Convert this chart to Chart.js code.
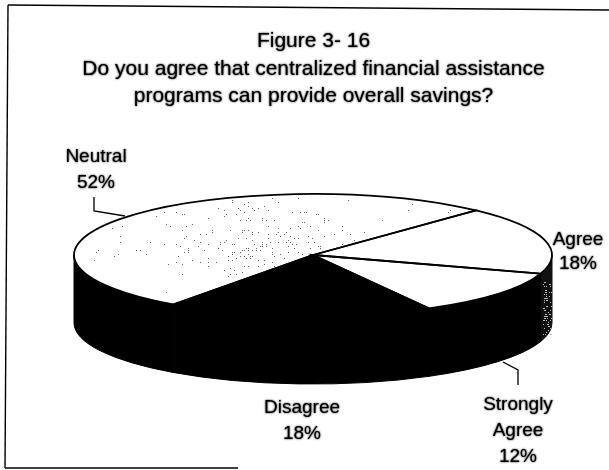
<!DOCTYPE html>
<html>
<head>
<meta charset="utf-8">
<script src="https://cdn.jsdelivr.net/npm/chart.js@4/dist/chart.umd.js"></script>
<style>
  html, body { margin: 0; padding: 0; background: #fff; }
  canvas { display: block; }
</style>
</head>
<body>
<canvas id="myChart" width="609" height="470"></canvas>
<script>
const titleLines = ['Figure 3- 16', 'Do you agree that centralized financial assistance', 'programs can provide overall savings?'];
const categories = ['Agree', 'Strongly Agree', 'Disagree', 'Neutral'];
const values = [18, 12, 18, 52];
const topColors = ['#fff', '#fff', '#000', '#fff'];
const wallColors = ['#111', '#000', '#000', '#000'];

// where the flattened pie sits on the page
const pie = { x: 313, y: 255, rx: 239, ry: 61, depth: 68 };
const labelFont = '19px "Liberation Sans"';

const labelSpots = [
  { lines: ['Agree', '18%'], x: 578, y: 240, gap: 24 },
  { lines: ['Strongly', 'Agree', '12%'], x: 518, y: 405, gap: 26 },
  { lines: ['Disagree', '18%'], x: 302, y: 408, gap: 26 },
  { lines: ['Neutral', '52%'], x: 96, y: 157, gap: 26 }
];
const leaders = [
  [[94, 197], [94, 211], [125, 216]],
  [[503, 362], [518, 370], [518, 385]]
];
const frame = [
  [[8, 5], [609, 10]],
  [[8, 5], [5, 468]],
  [[5, 468], [238, 468]]
];

// page coordinates -> the chart's own arc coordinates
function toPie(ctx, arc, dy) {
  ctx.translate(pie.x, pie.y + dy);
  ctx.scale(pie.rx / arc.outerRadius, pie.ry / arc.outerRadius);
  ctx.translate(-arc.x, -arc.y);
}

function drawWalls(ctx, arcs) {
  arcs.forEach((arc, i) => {
    let a = arc.startAngle, b = arc.endAngle;
    while (b > Math.PI * 2) { a -= Math.PI * 2; b -= Math.PI * 2; }
    const from = Math.max(a, 0), to = Math.min(b, Math.PI);
    if (to <= from) return;
    ctx.beginPath();
    ctx.save();
    toPie(ctx, arc, 0);
    ctx.arc(arc.x, arc.y, arc.outerRadius, from, to);
    ctx.restore();
    ctx.save();
    toPie(ctx, arc, pie.depth);
    ctx.arc(arc.x, arc.y, arc.outerRadius, to, from, true);
    ctx.restore();
    ctx.closePath();
    ctx.fillStyle = wallColors[i];
    ctx.strokeStyle = wallColors[i];
    ctx.lineWidth = 1;
    ctx.fill();
    ctx.stroke();
  });
}

function sectorPath(ctx, arc) {
  ctx.beginPath();
  ctx.save();
  toPie(ctx, arc, 0);
  ctx.moveTo(arc.x, arc.y);
  ctx.arc(arc.x, arc.y, arc.outerRadius, arc.startAngle, arc.endAngle);
  ctx.closePath();
  ctx.restore();
}

// scanner dither over the neutral slice, thicker toward the middle
function speckle(ctx, arc) {
  ctx.save();
  sectorPath(ctx, arc);
  ctx.clip();
  ctx.fillStyle = '#666';
  for (let x = 74; x < 480; x += 2) {
    for (let y = 194; y < 310; y += 2) {
      const h = Math.abs(Math.sin(x * 12.9898 + y * 78.233) * 43758.5453) % 1;
      const d = Math.hypot((x - 265) / 80, (y - 245) / 38);
      if (h < 0.13 - 0.085 * Math.min(d, 1.4)) ctx.fillRect(x, y, 1, 1);
    }
  }
  ctx.restore();
}

function speckleWall(ctx) {
  ctx.fillStyle = '#bbb';
  for (let x = 543; x < 552; x += 1) {
    for (let y = 280; y < 335; y += 2) {
      const h = Math.abs(Math.sin(x * 12.9898 + y * 78.233) * 43758.5453) % 1;
      if (h < 0.3) ctx.fillRect(x, y, 1, 1);
    }
  }
}

function polyline(ctx, pts, width) {
  ctx.beginPath();
  pts.forEach((p, i) => i ? ctx.lineTo(p[0], p[1]) : ctx.moveTo(p[0], p[1]));
  ctx.lineWidth = width;
  ctx.strokeStyle = '#000';
  ctx.stroke();
}

// slight smear so the text has the weight of the photocopy
function inkOn(ctx) {
  ctx.shadowColor = '#000';
  ctx.shadowBlur = 2;
}
function inkOff(ctx) {
  ctx.shadowColor = 'transparent';
  ctx.shadowBlur = 0;
}

const pie3d = {
  id: 'pie3d',
  beforeDraw(chart) {
    inkOn(chart.ctx);
  },
  beforeDatasetsDraw(chart) {
    const ctx = chart.ctx;
    const arcs = chart.getDatasetMeta(0).data;
    inkOff(ctx);
    drawWalls(ctx, arcs);
    speckleWall(ctx);
    ctx.save();
    toPie(ctx, arcs[0], 0);
  },
  afterDatasetsDraw(chart) {
    const ctx = chart.ctx;
    const arcs = chart.getDatasetMeta(0).data;
    ctx.restore();
    speckle(ctx, arcs[3]);
    arcs.forEach(arc => {
      sectorPath(ctx, arc);
      ctx.lineWidth = 1.8;
      ctx.strokeStyle = '#000';
      ctx.stroke();
    });
    leaders.forEach(l => polyline(ctx, l, 1.3));
    frame.forEach(l => polyline(ctx, l, 1.4));
    ctx.font = labelFont;
    ctx.fillStyle = '#000';
    ctx.textAlign = 'center';
    ctx.textBaseline = 'middle';
    inkOn(ctx);
    labelSpots.forEach(s => {
      s.lines.forEach((t, i) => ctx.fillText(t, s.x, s.y + i * s.gap));
    });
    inkOff(ctx);
  }
};

new Chart(document.getElementById('myChart'), {
  type: 'pie',
  data: {
    labels: categories,
    datasets: [{
      data: values,
      backgroundColor: topColors,
      borderWidth: 0,
      clip: false
    }]
  },
  options: {
    responsive: false,
    animation: false,
    rotation: 43,
    layout: { padding: { left: 18 } },
    plugins: {
      legend: { display: false },
      tooltip: { enabled: false },
      title: {
        display: true,
        text: titleLines,
        color: '#000',
        font: { family: 'Liberation Sans', size: 21, weight: 'normal', lineHeight: 1.3 },
        padding: { top: 28, bottom: 10 }
      }
    }
  },
  plugins: [pie3d]
});
</script>
</body>
</html>
